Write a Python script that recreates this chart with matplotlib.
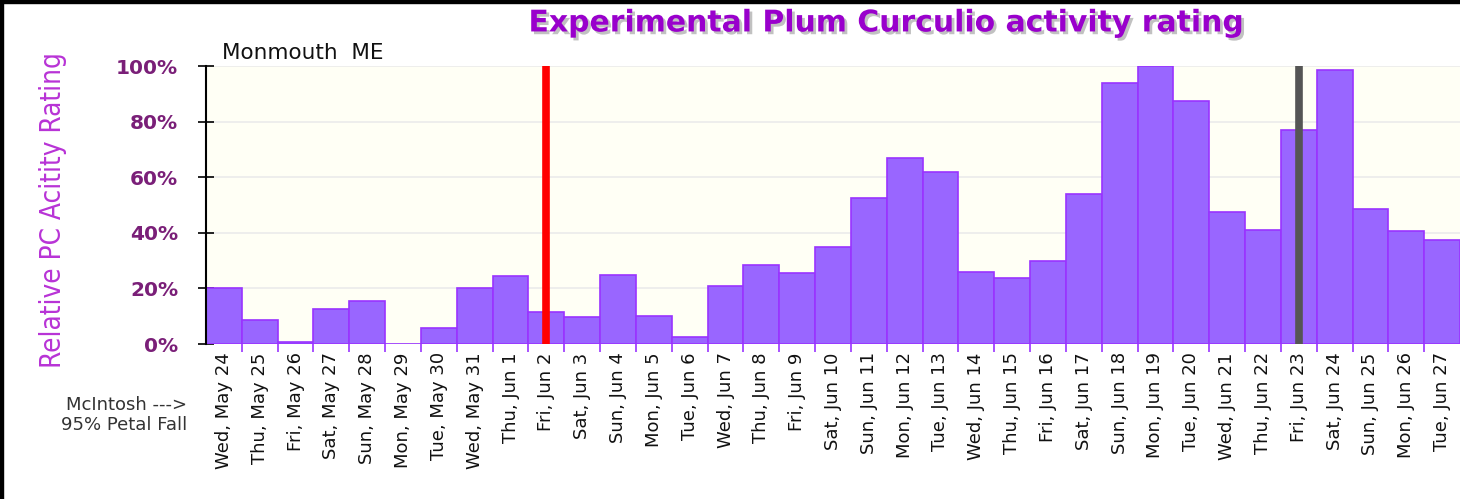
"""Experimental Plum Curculio activity rating, Monmouth ME"""
import numpy as np
import matplotlib
matplotlib.use("Agg")
import matplotlib.pyplot as plt
import matplotlib.patheffects as pe
from matplotlib.patches import Rectangle

days = ["Wed, May 24", "Thu, May 25", "Fri, May 26", "Sat, May 27", "Sun, May 28",
        "Mon, May 29", "Tue, May 30", "Wed, May 31", "Thu, Jun 1", "Fri, Jun 2",
        "Sat, Jun 3", "Sun, Jun 4", "Mon, Jun 5", "Tue, Jun 6", "Wed, Jun 7",
        "Thu, Jun 8", "Fri, Jun 9", "Sat, Jun 10", "Sun, Jun 11", "Mon, Jun 12",
        "Tue, Jun 13", "Wed, Jun 14", "Thu, Jun 15", "Fri, Jun 16", "Sat, Jun 17",
        "Sun, Jun 18", "Mon, Jun 19", "Tue, Jun 20", "Wed, Jun 21", "Thu, Jun 22",
        "Fri, Jun 23", "Sat, Jun 24", "Sun, Jun 25", "Mon, Jun 26", "Tue, Jun 27"]
activity = [20, 8.6, 0.7, 12.6, 15.5, 0, 5.8, 20, 24.5, 11.5,
            9.7, 24.8, 10, 2.5, 21, 28.4, 25.5, 35, 52.5, 67,
            62, 26, 23.7, 30, 54, 94, 100, 87.4, 47.5, 41,
            77, 98.5, 48.5, 40.6, 37.4]
petal_fall_day = "Fri, Jun 2"
marker_day = "Fri, Jun 23"

fig = plt.figure(figsize=(14.6, 4.99), dpi=100)
ax = fig.add_axes([0.1411, 0.3106, 0.8589, 0.5571])
ax.set_facecolor("#fffff5")

ind = np.arange(len(days))
ax.bar(ind, activity, width=1.0, color="#9966ff", edgecolor="#9933ff",
       linewidth=1.2, zorder=2)

ax.axvline(days.index(petal_fall_day), color="#ff0000", linewidth=5.5, zorder=3)
ax.axvline(days.index(marker_day), color="#555555", linewidth=5.5, zorder=3)

ax.set_xlim(-0.5, len(days) - 0.5)
ax.set_ylim(0, 100)
ax.set_yticks(np.arange(0, 101, 20))
ax.set_yticklabels(["%d%%" % v for v in range(0, 101, 20)],
                   fontsize=14.5, fontweight="bold", color="#7a1f78")
ax.yaxis.grid(True, color="#ebebeb", linewidth=1.2, zorder=0)

ax.set_xticks(ind)
ax.set_xticklabels(days, rotation=90, fontsize=13, color="#111111")
ax.tick_params(axis="x", length=0, pad=6)
ax.set_xticks(ind[1:] - 0.5, minor=True)
ax.tick_params(axis="x", which="minor", length=6, color="#9933ff", width=1.2)
ax.tick_params(axis="y", direction="inout", length=12, width=1.2, color="black", pad=14)

for side in ("top", "right", "bottom"):
    ax.spines[side].set_visible(False)
ax.spines["left"].set_linewidth(1.5)

fig.text(0.036, 0.58, "Relative PC Acitity Rating", rotation=90, ha="center", va="center",
         fontsize=20, color="#b833d6", family="DejaVu Sans", fontstretch="condensed")

fig.text(0.607, 0.954, "Experimental Plum Curculio activity rating", ha="center",
         va="center", fontsize=21.5, fontweight="bold", color="#9900cc",
         path_effects=[pe.withSimplePatchShadow(offset=(2, -2), shadow_rgbFace="#999999", alpha=0.6)])
fig.text(0.152, 0.893, "Monmouth  ME", ha="left", va="center", fontsize=15.5, color="#111111")
fig.text(0.128, 0.168, "McIntosh --->\n95% Petal Fall", ha="right", va="center",
         fontsize=13, color="#333333", linespacing=1.15)

# black frame along top and left edge
fig.patches.append(Rectangle((0, 0.994), 1, 0.006, transform=fig.transFigure,
                             color="black", zorder=10))
fig.patches.append(Rectangle((0, 0), 0.002, 1, transform=fig.transFigure,
                             color="black", zorder=10))

fig.savefig("out.png", dpi=100)
